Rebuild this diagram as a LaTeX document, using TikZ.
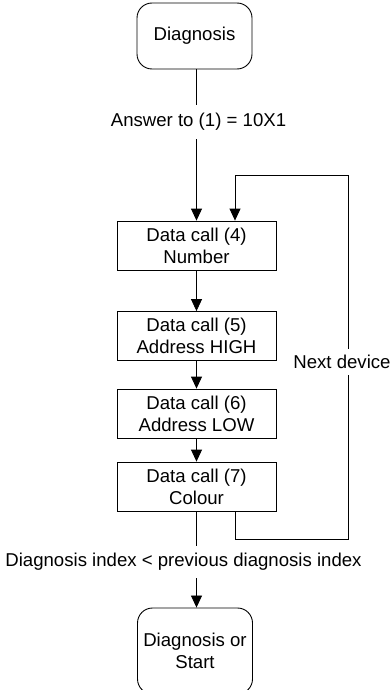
\documentclass[tikz,border=0pt]{standalone}
\usepackage{fontspec}
\setmainfont{Liberation Sans}
\usetikzlibrary{arrows.meta}
\begin{document}
\begin{tikzpicture}[x=1pt,y=-1pt,
  every node/.style={font=\fontsize{18.6}{21.7}\selectfont, align=center},
  term/.style={draw, line width=0.9pt, rounded corners=15pt, minimum width=115pt, inner sep=0pt},
  callbox/.style={draw, line width=0.8pt, minimum width=159pt, minimum height=49pt, inner sep=0pt},
  lbl/.style={fill=white, inner xsep=1pt, inner ysep=8pt},
  flow/.style={line width=0.8pt},
  arr/.style={flow, -{Triangle[length=12pt,width=11pt]}}]
\useasboundingbox (0,0) rectangle (391,690);
\clip (0,0) rectangle (391,690);
\node[term, minimum height=66pt] (d1) at (194.5,36) {Diagnosis};
\node[callbox] (b4) at (196.5,245.5) {Data call (4)\\Number};
\node[callbox] (b5) at (196.5,336) {Data call (5)\\Address HIGH};
\node[callbox] (b6) at (196.5,413.5) {Data call (6)\\Address LOW};
\node[callbox] (b7) at (196.5,486.5) {Data call (7)\\Colour};
\node[term, minimum height=86pt] (d2) at (195,651) {Diagnosis or\\Start};
\coordinate (tl) at (235,175);
\coordinate (tr) at (348,175);
\coordinate (br) at (348,539);
\coordinate (bl) at (235,539);
\draw[arr] (d1.south -| b4) -- (b4.north);
\draw[arr] (b4) -- (b5);
\draw[arr] (b5) -- (b6);
\draw[arr] (b6) -- (b7);
\draw[arr] (b7.south) -- (d2.north -| b7);
\draw[flow] (b7.south -| bl) -- (bl) -- (br) -- (tr) -- (tl);
\draw[arr] (tl) -- (tl |- b4.north);
\node[lbl] (l1) at (198.5,122) {Answer to (1) = 10X1};
\node[lbl, inner ysep=6pt] (l2) at (342,362) {Next device};
\node[lbl, inner ysep=7pt] (l3) at (183.5,562) {Diagnosis index < previous diagnosis index};
\end{tikzpicture}
\end{document}
